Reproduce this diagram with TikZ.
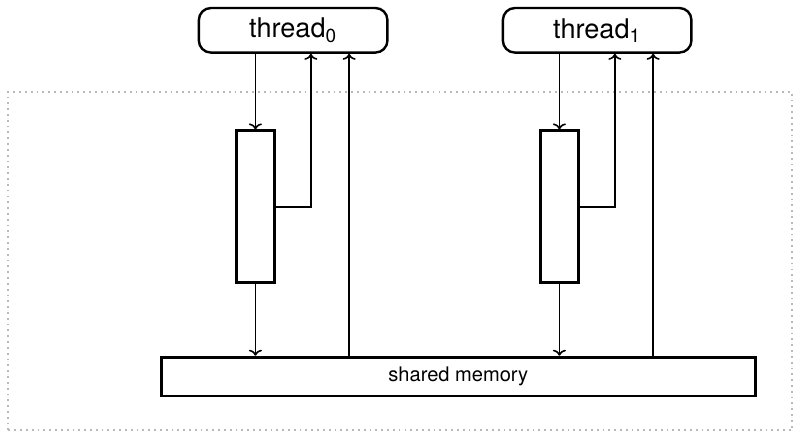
\documentclass[tikz,border=0pt]{standalone}
\usepackage{fontspec}
\setmainfont{TeX Gyre Heros}
\usetikzlibrary{calc, positioning, arrows.meta}

\begin{document}
\begin{tikzpicture}[
    >={To[length=3pt,width=6.5pt]},
    thread/.style={draw, line width=1.2pt, rounded corners=6pt, minimum width=3.3cm, minimum height=0.78cm, font=\fontsize{13.5}{15}\selectfont},
    buffer/.style={draw, line width=1.4pt, minimum width=0.66cm, minimum height=2.66cm},
    memory/.style={draw, line width=1.4pt, minimum width=10.4cm, minimum height=0.68cm},
    link/.style={->, line width=0.8pt}]
    \useasboundingbox (0,0) rectangle (14,7.58);
    \draw[gray!55, dotted, line width=0.9pt] (0.14,0.05) rectangle (13.86,5.97);
    \node[memory] (mem) at (8.02,0.99) {shared memory};
    \foreach \i/\x in {0/5.13,1/10.45}{
        \node[thread] (t\i) at (\x,7.05) {thread\textsubscript{\i}};
        \node[buffer] (b\i) at (\x-0.66,3.96) {};
        \coordinate (r\i) at ($(t\i.south)+(0.31,0)$);
        \coordinate (w\i) at ($(t\i.south)+(0.98,0)$);
        \draw[link] (t\i.south -| b\i) -- (b\i.north);
        \draw[link] (b\i.east) -| (r\i);
        \draw[link] (b\i.south) -- (b\i |- mem.north);
        \draw[link] (w\i |- mem.north) -- (w\i);
    }
\end{tikzpicture}
\end{document}
